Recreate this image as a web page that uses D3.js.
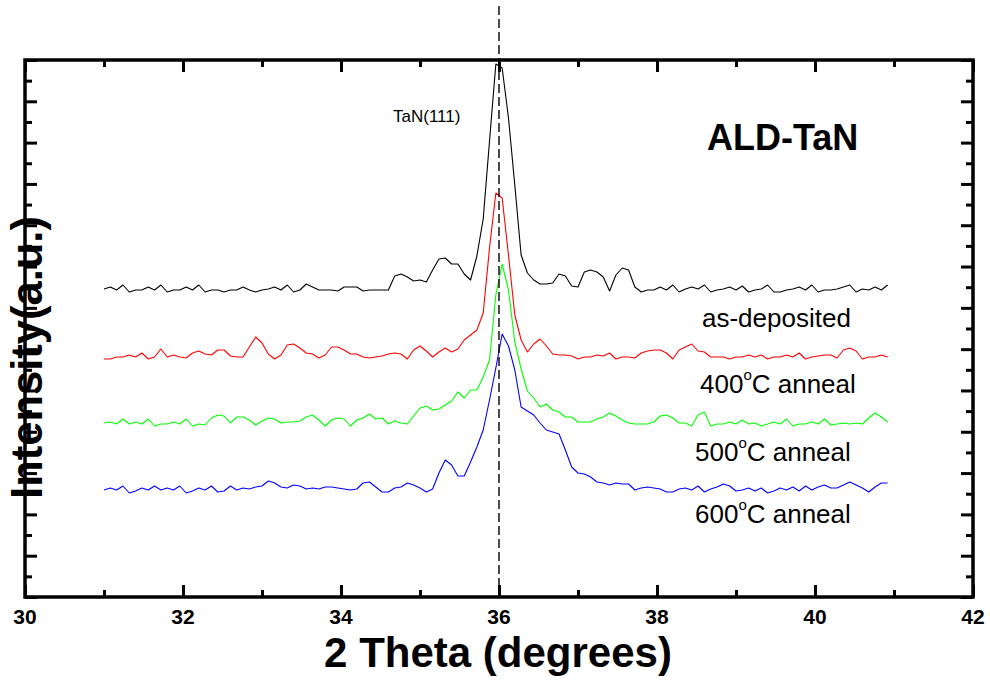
<!DOCTYPE html>
<html>
<head>
<meta charset="utf-8">
<script src="https://cdn.jsdelivr.net/npm/d3@7"></script>
<style>
  html, body { margin: 0; padding: 0; background: #fff; }
  svg { display: block; font-family: "Liberation Sans", Arial, sans-serif; }
</style>
</head>
<body>
<div id="vis"></div>
<script>

var width = 990;
var height = 684;
var margin = { top: 60, right: 17, bottom: 87, left: 25 };

// scan grid, 2theta in degrees
var scanStart = 31.0;
var scanStep = 0.08;

// traces as plotted (already stacked), a.u.
var asDeposited = [
    308,310,307,312,305,307,307,310,307,312,
    305,307,307,310,307,312,305,307,307,305,
    307,307,310,307,305,307,308,310,307,312,
    305,307,313,310,307,307,307,306,310,310,
    310,306,307,307,307,307,321,323,320,316,
    317,315,327,338,339,333,333,323,317,341,
    378,456,533,529,479,412,342,324,317,313,
    313,314,323,321,311,310,325,327,325,320,
    306,322,329,327,310,305,307,307,310,307,
    312,305,308,310,308,312,305,307,308,310,
    307,311,305,307,308,312,305,305,307,308,
    310,307,312,305,307,307,308,310,312,305,
    308,307,310,307,312
];
var anneal400 = [
    238,238,240,240,242,240,244,238,240,248,
    240,242,240,239,244,246,243,242,247,247,
    241,240,240,250,260,254,243,238,242,252,
    253,249,244,243,239,242,250,250,247,243,
    243,240,239,240,241,243,244,243,238,247,
    251,246,240,245,249,245,248,257,262,267,
    284,349,404,399,342,282,257,245,253,258,
    251,243,242,242,241,238,240,240,242,241,
    244,238,240,240,239,244,246,247,247,244,
    238,247,250,253,246,245,240,240,240,238,
    240,240,242,240,242,238,240,240,242,240,
    244,238,240,241,242,242,239,247,249,246,
    238,240,240,242,240
];
var anneal500 = [
    174,175,173,178,173,175,173,178,171,173,
    173,175,173,178,171,173,172,179,182,181,
    174,180,180,177,172,176,179,178,174,175,
    175,176,180,182,177,171,177,179,178,171,
    177,179,183,178,179,173,176,174,173,181,
    189,191,187,188,192,196,205,199,207,207,
    220,237,302,333,307,255,228,206,199,190,
    193,187,185,180,180,175,175,175,178,180,
    184,181,177,174,173,173,173,175,181,182,
    179,174,174,171,182,185,171,173,173,175,
    173,177,173,174,171,173,175,173,178,171,
    173,173,175,173,178,172,173,174,173,174,
    173,179,184,180,175
];
var anneal600 = [
    107,109,107,111,104,106,109,107,111,107,
    109,107,111,104,106,109,107,111,105,106,
    111,107,109,108,110,111,116,114,110,109,
    112,111,108,109,108,110,110,109,108,107,
    108,114,115,110,105,105,109,110,114,112,
    109,105,108,124,137,132,121,121,135,150,
    167,197,229,263,251,227,190,186,182,174,
    167,165,163,147,130,124,123,120,115,114,
    112,114,113,113,107,109,110,109,108,105,
    105,108,109,107,111,105,108,110,113,111,
    106,107,109,106,109,104,106,109,107,110,
    106,111,107,110,112,109,109,112,115,112,
    109,105,110,114,114
];

var seriesData = [asDeposited, anneal400, anneal500, anneal600];
var seriesColors = ['#000000', '#ff0000', '#00ff00', '#0000ff'];

var xMajorTicks = [30, 32, 34, 36, 38, 40, 42];
var xMinorTicks = [31, 33, 35, 37, 39, 41];
var yMax = 537;
var yIntervals = 26;
var peakPosition = 36.0;


var svg = d3.select('#vis')
    .append('svg')
    .attr('width', width)
    .attr('height', height);

var x = d3.scaleLinear()
    .domain([30, 42])
    .range([margin.left, width - margin.right]);

var y = d3.scaleLinear()
    .domain([0, yMax])
    .range([height - margin.bottom, margin.top]);

var yTicks = d3.range(0, yIntervals + 1).map(function (k) { return k * yMax / yIntervals; });
var yMajor = yTicks.filter(function (d, i) { return i % 2 === 0; });
var yMinor = yTicks.filter(function (d, i) { return i % 2 === 1; });

var x0 = x.range()[0], x1 = x.range()[1];
var y0 = y.range()[0], y1 = y.range()[1];

function styleAxis(g) {
    g.select('.domain').remove();
    g.selectAll('.tick line')
        .attr('stroke', '#000')
        .attr('stroke-width', 3);
}

// bottom axis, major ticks (labels drawn below)
svg.append('g')
    .attr('transform', 'translate(0,' + y0 + ')')
    .call(d3.axisBottom(x).tickValues(xMajorTicks).tickSizeInner(-12).tickSizeOuter(0).tickFormat(''))
    .call(styleAxis);

svg.append('g')
    .attr('transform', 'translate(0,' + y0 + ')')
    .call(d3.axisBottom(x).tickValues(xMinorTicks).tickSizeInner(-7).tickSizeOuter(0).tickFormat(''))
    .call(styleAxis);

// tick labels
svg.selectAll('.xlabel')
    .data(xMajorTicks)
    .enter().append('text')
    .attr('class', 'xlabel')
    .attr('x', function (d) { return x(d); })
    .attr('y', y0 + 27)
    .attr('text-anchor', 'middle')
    .style('font-size', '21px')
    .style('font-weight', 'bold')
    .style('fill', '#000')
    .text(function (d) { return d; });

// top axis
svg.append('g')
    .attr('transform', 'translate(0,' + y1 + ')')
    .call(d3.axisTop(x).tickValues(xMajorTicks).tickSizeInner(-12).tickSizeOuter(0).tickFormat(''))
    .call(styleAxis);
svg.append('g')
    .attr('transform', 'translate(0,' + y1 + ')')
    .call(d3.axisTop(x).tickValues(xMinorTicks).tickSizeInner(-7).tickSizeOuter(0).tickFormat(''))
    .call(styleAxis);

// left / right
svg.append('g')
    .attr('transform', 'translate(' + x0 + ',0)')
    .call(d3.axisLeft(y).tickValues(yMajor).tickSizeInner(-12).tickSizeOuter(0).tickFormat(''))
    .call(styleAxis);
svg.append('g')
    .attr('transform', 'translate(' + x0 + ',0)')
    .call(d3.axisLeft(y).tickValues(yMinor).tickSizeInner(-7).tickSizeOuter(0).tickFormat(''))
    .call(styleAxis);
svg.append('g')
    .attr('transform', 'translate(' + x1 + ',0)')
    .call(d3.axisRight(y).tickValues(yMajor).tickSizeInner(-12).tickSizeOuter(0).tickFormat(''))
    .call(styleAxis);
svg.append('g')
    .attr('transform', 'translate(' + x1 + ',0)')
    .call(d3.axisRight(y).tickValues(yMinor).tickSizeInner(-7).tickSizeOuter(0).tickFormat(''))
    .call(styleAxis);

// frame
svg.append('rect')
    .attr('x', x0)
    .attr('y', y1)
    .attr('width', x1 - x0)
    .attr('height', y0 - y1)
    .attr('fill', 'none')
    .attr('stroke', '#000')
    .attr('stroke-width', 3.5);

// traces
var line = d3.line()
    .x(function (d, i) { return x(scanStart + i * scanStep); })
    .y(function (d) { return y(d); });

svg.selectAll('.trace')
    .data(seriesData)
    .enter().append('path')
    .attr('class', 'trace')
    .attr('fill', 'none')
    .attr('stroke', function (d, i) { return seriesColors[i]; })
    .attr('stroke-width', 1.1)
    .attr('stroke-linejoin', 'round')
    .attr('d', line);

// TaN(111) reference line
svg.append('line')
    .attr('x1', x(peakPosition))
    .attr('x2', x(peakPosition))
    .attr('y1', 6)
    .attr('y2', y0)
    .attr('stroke', '#000')
    .attr('stroke-width', 1.4)
    .attr('stroke-dasharray', '9,4');

// texts
svg.append('text')
    .attr('x', 393)
    .attr('y', 122)
    .attr('font-size', 17)
    .text('TaN(111)');

svg.append('text')
    .attr('x', 707)
    .attr('y', 150)
    .attr('font-size', 36)
    .attr('font-weight', 'bold')
    .text('ALD-TaN');

svg.append('text')
    .attr('x', 702)
    .attr('y', 327)
    .attr('font-size', 26)
    .text('as-deposited');

function annealLabel(temp, xPos, yPos) {
    var t = svg.append('text')
        .attr('x', xPos)
        .attr('y', yPos)
        .attr('font-size', 26);
    t.append('tspan').text(temp);
    t.append('tspan').attr('font-size', 15).attr('dy', -13).text('o');
    t.append('tspan').attr('dy', 13).text('C anneal');
}
annealLabel('400', 700, 393);
annealLabel('500', 695, 461);
annealLabel('600', 695, 523);

// axis titles
svg.append('text')
    .attr('x', 498)
    .attr('y', 667)
    .attr('text-anchor', 'middle')
    .attr('font-size', 42)
    .attr('font-weight', 'bold')
    .text('2 Theta (degrees)');

svg.append('text')
    .attr('transform', 'translate(42,357.5) rotate(-90)')
    .attr('text-anchor', 'middle')
    .attr('font-size', 43.5)
    .attr('font-weight', 'bold')
    .text('Intensity(a.u.)');

</script>
</body>
</html>
